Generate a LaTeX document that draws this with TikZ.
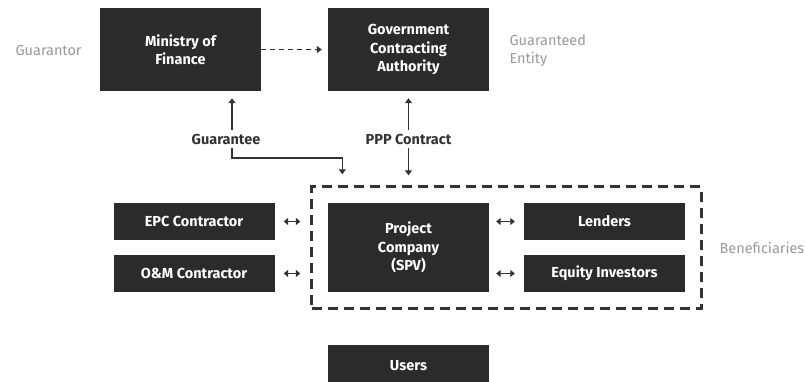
\documentclass[tikz,border=0pt]{standalone}
\usepackage{fontspec}
\setmainfont{Fira Sans}
\usetikzlibrary{arrows.meta,positioning,calc,fit}
\definecolor{boxInk}{HTML}{2B2B2B}
\definecolor{noteGray}{HTML}{999999}
\definecolor{lineInk}{HTML}{333333}
\tikzset{
  party/.style={fill=boxInk,text=white,font=\bfseries\fontsize{14.5}{18.5}\selectfont,
    align=center,minimum width=161pt,inner sep=0pt},
  note/.style={text=noteGray,font=\fontsize{14.5}{18.5}\selectfont,align=left,anchor=west},
  flowlabel/.style={text=lineInk,font=\bfseries\fontsize{14.5}{18.5}\selectfont},
  link/.style={draw=lineInk,line width=1.4pt,-{Triangle[length=5pt,width=7pt]}},
  both/.style={draw=lineInk,line width=1.4pt,
    {Triangle[length=4.5pt,width=7pt]}-{Triangle[length=4.5pt,width=7pt]}},
}

\begin{document}
\begin{tikzpicture}[x=1pt,y=-1pt]
  \useasboundingbox (0,0) rectangle (805,381);

  % public side
  \node[party,minimum height=83pt] (mof) at (180.5,49.5) {Ministry of\\Finance};
  \node[party,minimum height=83pt] (gca) at (408.5,49.5) {Government\\Contracting\\Authority};
  \node[note] (guarantor) at (12,51) {Guarantor};
  \node[note] (entity) at (506,50.5) {Guaranteed\\Entity};

  % project side
  \node[party,minimum height=89pt] (spv) at (408.5,247.5) {Project\\Company\\(SPV)};
  \node[party,minimum height=37pt] (epc) at (194,221.5) {EPC Contractor};
  \node[party,minimum height=37pt] (om) at (194,273.5) {O\&M Contractor};
  \node[party,minimum height=37pt] (lend) at (604.5,221.5) {Lenders};
  \node[party,minimum height=37pt] (equity) at (604.5,273.5) {Equity Investors};
  \node[party,minimum height=42pt] (users) at (408.5,366) {Users};
  \node[draw=lineInk,line width=3pt,dash pattern=on 10pt off 6pt,
    fit=(spv)(lend)(equity),inner sep=16pt] (benef) {};
  \node[note] (benefnote) at (716,248) {Beneficiaries};

  % contracts
  \node[flowlabel] (guar) at (226,139) {Guarantee};
  \node[flowlabel] (ppp) at (408.5,139) {PPP Contract};
  \coordinate (gtip) at ($(benef.north west)+(32,-11)$);

  \draw[link,dash pattern=on 5pt off 4pt,shorten >=6pt] (mof) -- (gca);
  \draw[link,shorten >=7pt] ([xshift=6pt]guar.north) -- ([xshift=6pt]guar.north |- mof.south);
  \draw[link] ([xshift=6pt]guar.south) -- ++(0,10) -| (gtip);
  \draw[link,shorten >=7pt] (ppp.north) -- (gca.south);
  \draw[link,shorten >=10pt] (ppp.south) -- (ppp.south |- benef.north);

  \draw[both,shorten <=9pt,shorten >=10pt] (epc.east) -- (epc.east -| benef.west);
  \draw[both,shorten <=9pt,shorten >=10pt] (om.east) -- (om.east -| benef.west);
  \draw[both,shorten <=7pt,shorten >=9pt] (spv.east |- lend) -- (lend.west);
  \draw[both,shorten <=7pt,shorten >=9pt] (spv.east |- equity) -- (equity.west);
\end{tikzpicture}
\end{document}
